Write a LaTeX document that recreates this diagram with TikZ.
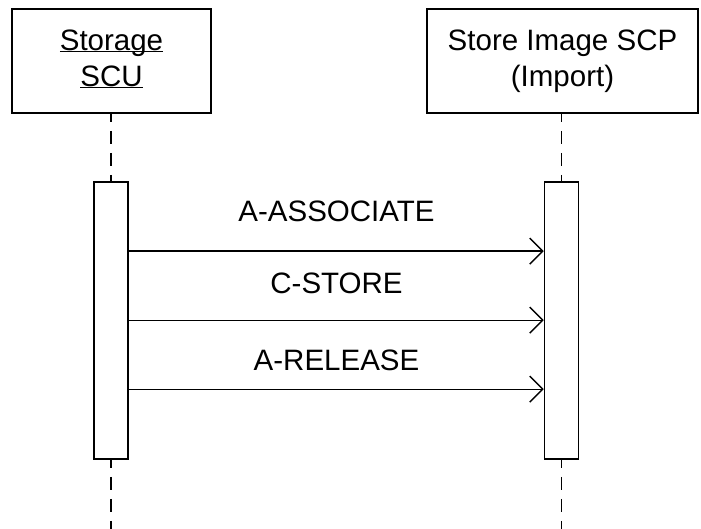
\documentclass[tikz,border=0pt]{standalone}
\usepackage{fontspec}
\setmainfont{Liberation Sans}
\usetikzlibrary{arrows.meta}

\begin{document}
\begin{tikzpicture}[x = 1pt, y = -1pt]
\tikzstyle{objectStyle} = [shape = rectangle, draw, line width = 1.6pt, align = center, inner sep = 0pt, minimum height = 104pt, font = \fontsize{29.5}{36}\selectfont]
\tikzstyle{barStyle} = [shape = rectangle, draw, line width = 1.6pt, fill = white, inner sep = 0pt, minimum width = 34pt, minimum height = 277pt]
\tikzstyle{lifeStyle} = [line width = 1.6pt, dash pattern = on 13pt off 9pt, dash phase = 5pt]
\tikzstyle{msgStyle} = [line width = 1.4pt, -{Straight Barb[length = 13pt, width = 26pt, line width = 1.4pt]}]
\tikzstyle{labelStyle} = [anchor = base, inner sep = 0pt, font = \fontsize{29.5}{36}\selectfont]
\useasboundingbox (0,0) rectangle (701,529);
% objects
\node[objectStyle, minimum width = 199pt] (scu) at (111.5,61) {\underline{\smash{Storage}}\strut\\\underline{\smash{SCU}}\strut};
\node[objectStyle, minimum width = 271pt] (scp) at (562.5,61) {Store Image SCP\strut\\(Import)\strut};
\coordinate (scuEnd) at (111,529);
\coordinate (scpEnd) at (561.5,529);
% activation bars
\node[barStyle] (scuBar) at (111,320.5) {};
\node[barStyle] (scpBar) at (561.5,320.5) {};
% lifelines
\draw[lifeStyle] (scu.south -| scuBar.north) -- (scuBar.north);
\draw[lifeStyle] (scuBar.south) -- (scuEnd);
\draw[lifeStyle] (scp.south -| scpBar.north) -- (scpBar.north);
\draw[lifeStyle] (scpBar.south) -- (scpEnd);
% messages
\draw[msgStyle] ([yshift = -70pt]scuBar.north east) -- ([yshift = -70pt]scpBar.north west);
\draw[msgStyle] ([yshift = -139pt]scuBar.north east) -- ([yshift = -139pt]scpBar.north west);
\draw[msgStyle] ([yshift = -208pt]scuBar.north east) -- ([yshift = -208pt]scpBar.north west);
\node[labelStyle] (l0) at (336.5,222) {A-ASSOCIATE};
\node[labelStyle] (l1) at (336.5,293) {C-STORE};
\node[labelStyle] (l2) at (336.5,370) {A-RELEASE};
\end{tikzpicture}
\end{document}
